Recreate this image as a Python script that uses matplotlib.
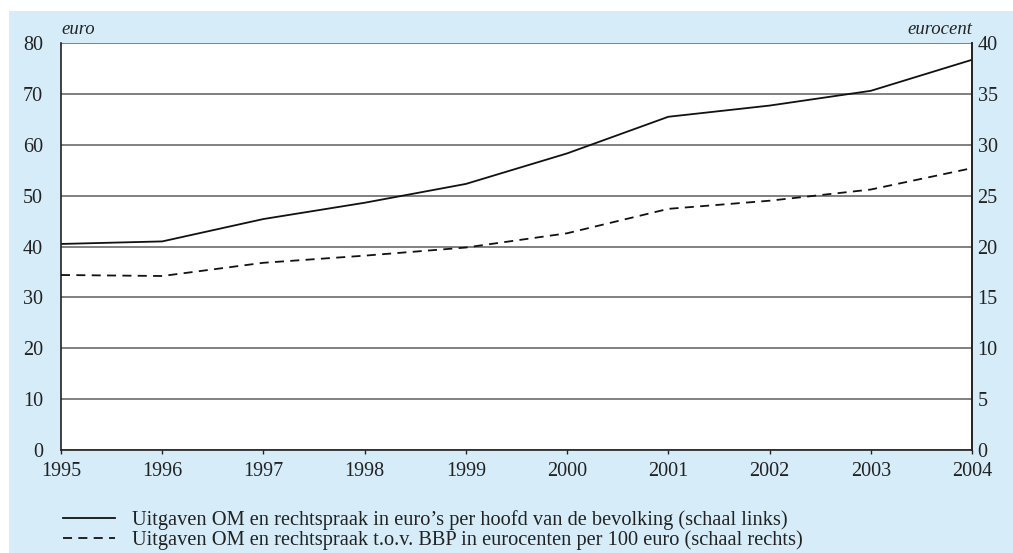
import matplotlib
matplotlib.use("Agg")
import matplotlib.pyplot as plt
from matplotlib.patches import Rectangle

years = [1995, 1996, 1997, 1998, 1999, 2000, 2001, 2002, 2003, 2004]
euro_per_capita = [40.5, 41.0, 45.4, 48.6, 52.3, 58.3, 65.5, 67.7, 70.6, 76.7]
eurocent_per_100 = [17.2, 17.1, 18.4, 19.1, 19.9, 21.3, 23.7, 24.5, 25.6, 27.7]
left_ticks = [0, 10, 20, 30, 40, 50, 60, 70, 80]
right_ticks = [0, 5, 10, 15, 20, 25, 30, 35, 40]
label_solid = "Uitgaven OM en rechtspraak in euro\u2019s per hoofd van de bevolking (schaal links)"
label_dashed = "Uitgaven OM en rechtspraak t.o.v. BBP in eurocenten per 100 euro (schaal rechts)"

plt.rcParams['font.family'] = ['Liberation Serif', 'DejaVu Serif']
FS = 14.5
LFS = 14.7
BLUE = '#d6edf9'
TXT = '#222222'

W, H = 1013, 553
fig = plt.figure(figsize=(W / 100, H / 100), dpi=100, facecolor='white')
fig.patches.append(Rectangle((9 / W, 0), 1 - 9 / W, (H - 11) / H,
                             transform=fig.transFigure, facecolor=BLUE,
                             edgecolor='none', zorder=-10))

ax = fig.add_axes([61 / W, (H - 450) / H, (972 - 61) / W, (450 - 43) / H])
ax.set_facecolor('white')
ax.set_xlim(years[0], years[-1])
ax.set_ylim(0, 80)
ax.set_yticks(left_ticks)
ax.set_xticks(years)
ax.grid(axis='y', color='#808080', linewidth=1.4)
ax.set_axisbelow(True)
ax.spines['top'].set_visible(False)
for s in ['left', 'right', 'bottom']:
    ax.spines[s].set_color(TXT)
    ax.spines[s].set_linewidth(1.2)
ax.tick_params(axis='y', length=0, pad=13, labelsize=FS, colors=TXT)
ax.tick_params(axis='x', length=3, width=1, pad=5.5, labelsize=FS, colors=TXT)

l1, = ax.plot(years, euro_per_capita, color='#111111', linewidth=1.3)

ax2 = ax.twinx()
ax2.set_ylim(0, 40)
ax2.set_yticks(right_ticks)
ax2.tick_params(axis='y', length=0, pad=4, labelsize=FS, colors=TXT)
for s in ['top', 'left', 'bottom']:
    ax2.spines[s].set_visible(False)
ax2.spines['right'].set_color(TXT)
ax2.spines['right'].set_linewidth(1.2)
l2, = ax2.plot(years, eurocent_per_100, color='#111111', linewidth=1.3,
               linestyle=(0, (5, 3.5)))

fig.text(61 / W, (H - 29) / H, 'euro', style='italic', fontsize=FS - 1,
         ha='left', va='center', color=TXT)
fig.text(972 / W, (H - 29) / H, 'eurocent', style='italic', fontsize=FS - 1,
         ha='right', va='center', color=TXT)

fig.legend([l1, l2], [label_solid, label_dashed], loc='upper left',
           bbox_to_anchor=(55 / W, (H - 502) / H), frameon=False,
           fontsize=LFS, handlelength=2.55, handletextpad=0.8,
           labelspacing=0.0, borderaxespad=0, labelcolor=TXT)

fig.savefig('out.png', dpi=100, facecolor='white')
